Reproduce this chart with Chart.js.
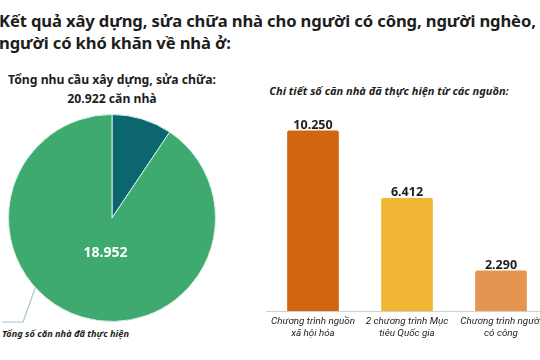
<!DOCTYPE html>
<html>
<head>
<meta charset="utf-8">
<script src="https://cdn.jsdelivr.net/npm/chart.js@4.4.1/dist/chart.umd.min.js"></script>
<style>
  html, body { margin: 0; padding: 0; background: #fff; }
  body { width: 540px; height: 360px; position: relative; overflow: hidden; font-family: "Noto Sans", sans-serif; color: #1d1d1d; }
  .title { position: absolute; left: -1px; top: 10px; width: 600px; font-weight: 700; font-size: 16.6px; line-height: 22px; white-space: nowrap; letter-spacing: -0.12px; }
  .sub1 { position: absolute; left: 0; width: 224px; top: 70px; text-align: center; font-weight: 700; font-size: 12.2px; line-height: 19px; }
  .sub2 { position: absolute; left: 249px; width: 280px; top: 83px; text-align: center; font-weight: 700; font-style: italic; font-size: 11px; line-height: 15px; }
  .note { position: absolute; left: 2px; top: 327px; font-weight: 700; font-style: italic; font-size: 9.2px; line-height: 13px; white-space: nowrap; }
  #pieWrap { position: absolute; left: 8px; top: 114px; width: 208px; height: 208px; }
  #barWrap { position: absolute; left: 266px; top: 100px; width: 282px; height: 260px; }
  svg { position: absolute; left: 0; top: 0; }
</style>
</head>
<body>
<div class="title">Kết quả xây dựng, sửa chữa nhà cho người có công, người nghèo,<br>người có khó khăn về nhà ở:</div>
<div class="sub1">Tổng nhu cầu xây dựng, sửa chữa:<br>20.922 căn nhà</div>
<div class="sub2">Chi tiết số căn nhà đã thực hiện từ các nguồn:</div>
<svg width="60" height="360"><polyline points="2,322 23,322 37,283" fill="none" stroke="#9fc9c3" stroke-width="1.2"/></svg>
<div id="pieWrap"><canvas id="pie"></canvas></div>
<div class="note">Tổng số căn nhà đã thực hiện</div>
<div id="barWrap"><canvas id="bar"></canvas></div>
<script>
// ---- data ----
const pieLabels = ["Chưa thực hiện", "Tổng số căn nhà đã thực hiện"];
const pieValues = [1970, 18952];
const pieColors = ["#0b6670", "#3eaa6f"];

const barCategories = [["Chương trình nguồn", "xã hội hóa"], ["2 chương trình Mục", "tiêu Quốc gia"], ["Chương trình người", "có công"]];
const barValues = [10250, 6412, 2290];
const barColors = ["#d2650f", "#f1b734", "#e4954f"];

const fmt = v => v.toLocaleString("de-DE");

const pieLabelPlugin = {
  id: "pieLabel",
  afterDatasetsDraw(chart) {
    const meta = chart.getDatasetMeta(0);
    const arc = meta.data[1];
    const p = arc.getProps(["x", "y", "startAngle", "endAngle", "outerRadius"], true);
    const mid = (p.startAngle + p.endAngle) / 2;
    const r = p.outerRadius * 0.345;
    const ctx = chart.ctx;
    ctx.save();
    ctx.font = "700 14px 'Noto Sans'";
    ctx.fillStyle = "#ffffff";
    ctx.textAlign = "center";
    ctx.textBaseline = "middle";
    ctx.fillText(fmt(pieValues[1]), p.x + Math.cos(mid) * r + 4, p.y + Math.sin(mid) * r + 1);
    ctx.restore();
  }
};

new Chart(document.getElementById("pie"), {
  type: "pie",
  data: { labels: pieLabels, datasets: [{ data: pieValues, backgroundColor: pieColors, borderColor: "#d8efe3", borderWidth: 1 }] },
  options: {
    responsive: true, maintainAspectRatio: false, animation: false,
    layout: { padding: 0 },
    plugins: { legend: { display: false }, tooltip: { enabled: false } }
  },
  plugins: [pieLabelPlugin]
});

const barValuePlugin = {
  id: "barValue",
  afterDatasetsDraw(chart) {
    const meta = chart.getDatasetMeta(0);
    const ctx = chart.ctx;
    ctx.save();
    ctx.font = "700 12.5px 'Noto Sans'";
    ctx.fillStyle = "#1d1d1d";
    ctx.textAlign = "center";
    ctx.textBaseline = "alphabetic";
    meta.data.forEach((el, i) => {
      ctx.fillText(fmt(barValues[i]), el.x, el.y - 2);
    });
    ctx.restore();
  }
};

new Chart(document.getElementById("bar"), {
  type: "bar",
  data: { labels: barCategories, datasets: [{ data: barValues, backgroundColor: barColors, barThickness: 51, borderRadius: { topLeft: 2, topRight: 2 }, borderSkipped: "bottom" }] },
  options: {
    responsive: true, maintainAspectRatio: false, animation: false,
    layout: { padding: 0 },
    plugins: { legend: { display: false }, tooltip: { enabled: false } },
    scales: {
      y: { display: false, min: 0, max: 12000 },
      x: {
        grid: { display: true, drawOnChartArea: false, drawTicks: false },
        border: { display: true, color: "#d0d0d0", width: 1 },
        ticks: { color: "#222", padding: 4, font: { family: "Roboto", style: "italic", size: 9.8, lineHeight: 1.25 }, maxRotation: 0, autoSkip: false },
        afterFit(scale) { scale.height = 49; }
      }
    }
  },
  plugins: [barValuePlugin]
});
</script>
</body>
</html>
